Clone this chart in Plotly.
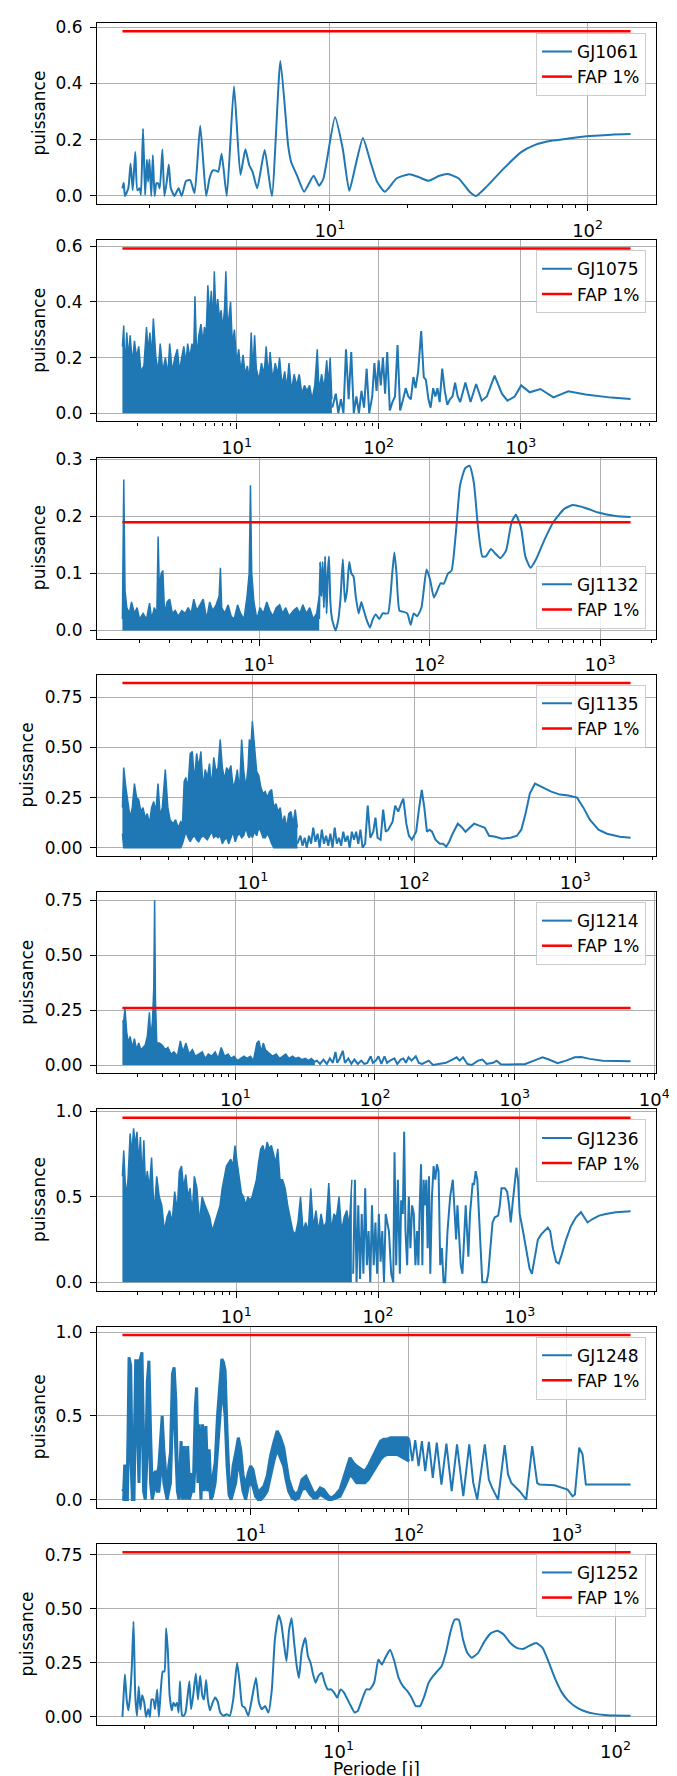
import math

import plotly.graph_objects as go

# Lomb-Scargle periodograms: period [days] and power.
# "dense" arrays describe the parts where the curve oscillates so fast that it
# renders as a solid band (upper edge, and lower edge where it is not zero).

# GJ1061
gj1061_period = [
    1.567, 1.585, 1.603, 1.652, 1.686, 1.718, 1.758, 1.791, 1.828, 1.849,
    1.884, 1.919, 1.950, 1.972, 1.995, 2.028, 2.056, 2.089, 2.123, 2.154,
    2.188, 2.239, 2.280, 2.328, 2.371, 2.415, 2.495, 2.588, 2.661, 2.767,
    2.871, 2.985, 3.140, 3.311, 3.412, 3.508, 3.614, 3.690, 3.802, 3.981,
    4.246, 4.498, 4.699, 4.864, 5.012, 5.224, 5.585, 5.957, 6.427, 6.887,
    7.079, 7.447, 7.943, 8.650, 9.087, 9.441, 10.47, 11.22, 11.89, 12.59,
    13.43, 14.39, 15.25, 16.35, 18.13, 20.33, 21.98, 24.15, 26.61, 28.71,
    31.62, 34.83, 36.90, 40.55, 47.32, 55.21, 61.94, 72.11, 84.14, 101.9,
    123.5, 146.8,
]
gj1061_power = [
    0.027, 0.047, 0.0, 0.027, 0.115, 0.02, 0.156, 0.02, 0.027, 0.004,
    0.239, 0.003, 0.13, 0.05, 0.13, 0.0, 0.145, 0.0, 0.045, 0.045,
    0.027, 0.165, 0.0, 0.05, 0.112, 0.027, 0.0, 0.027, 0.0, 0.053,
    0.056, 0.01, 0.25, 0.0, 0.062, 0.09, 0.09, 0.086, 0.15, 0.0,
    0.39, 0.074, 0.166, 0.11, 0.086, 0.027, 0.163, 0.0, 0.48, 0.18,
    0.12, 0.074, 0.015, 0.072, 0.036, 0.062, 0.28, 0.168, 0.018, 0.11,
    0.206, 0.12, 0.05, 0.015, 0.062, 0.077, 0.068, 0.054, 0.072, 0.078,
    0.062, 0.015, 0.0, 0.033, 0.098, 0.156, 0.18, 0.196, 0.204, 0.213,
    0.218, 0.22,
]
gj1061_fap = 0.586

# GJ1075
gj1075_dense_period = [
    1.571, 1.605, 1.639, 1.685, 1.733, 1.781, 1.845, 1.910, 1.977, 2.047,
    2.120, 2.226, 2.321, 2.386, 2.453, 2.523, 2.594, 2.704, 2.801, 2.899,
    3.023, 3.151, 3.286, 3.379, 3.523, 3.673, 3.830, 3.964, 4.105, 4.250,
    4.400, 4.524, 4.684, 4.850, 4.988, 5.092, 5.236, 5.422, 5.614, 5.813,
    5.935, 6.103, 6.275, 6.453, 6.635, 6.822, 6.966, 7.161, 7.363, 7.571,
    7.784, 8.004, 8.230, 8.404, 8.641, 8.884, 9.072, 9.328, 9.658, 10.0,
    10.35, 10.72, 11.10, 11.49, 11.90, 12.32, 12.67, 13.02, 13.39, 13.77,
    14.36, 14.97, 15.61, 16.16, 16.73, 17.21, 17.94, 18.70, 19.50, 20.05,
    20.90, 21.80, 22.57, 23.37, 24.36, 25.40, 26.48, 27.61, 28.79, 30.01,
    31.30, 32.63, 34.02, 35.47, 36.98, 38.03, 39.64, 41.33, 43.09, 44.31,
    45.56, 46.84,
]
gj1075_dense_top = [
    0.24, 0.315, 0.15, 0.29, 0.2, 0.28, 0.18, 0.26, 0.2, 0.24,
    0.15, 0.17, 0.31, 0.22, 0.29, 0.2, 0.34, 0.2, 0.15, 0.25,
    0.15, 0.2, 0.14, 0.25, 0.15, 0.2, 0.23, 0.15, 0.2, 0.24,
    0.18, 0.25, 0.2, 0.25, 0.22, 0.42, 0.2, 0.28, 0.32, 0.25,
    0.31, 0.28, 0.46, 0.35, 0.44, 0.32, 0.51, 0.35, 0.41, 0.34,
    0.37, 0.3, 0.38, 0.51, 0.3, 0.36, 0.4, 0.25, 0.3, 0.18,
    0.23, 0.15, 0.21, 0.14, 0.17, 0.12, 0.29, 0.15, 0.28, 0.16,
    0.12, 0.18, 0.14, 0.24, 0.13, 0.22, 0.12, 0.18, 0.14, 0.2,
    0.1, 0.15, 0.09, 0.18, 0.08, 0.14, 0.1, 0.14, 0.07, 0.1,
    0.08, 0.1, 0.05, 0.1, 0.23, 0.08, 0.14, 0.09, 0.19, 0.1,
    0.2, 0.05,
]
gj1075_period = [
    47.2, 49.9, 52.0, 54.2, 56.5, 58.9, 61.5, 64.1, 66.8, 69.7,
    72.6, 75.7, 78.9, 82.3, 85.8, 90.1, 93.3, 96.6, 100.0, 103.5,
    107.2, 111.0, 114.9, 119.9, 125.0, 130.3, 135.8, 141.6, 148.7, 155.0,
    161.6, 168.5, 175.6, 181.9, 189.7, 199.2, 207.7, 215.0, 224.1, 232.1,
    241.9, 250.6, 259.5, 268.7, 280.1, 291.9, 304.3, 317.4, 331.0, 345.1,
    359.8, 375.1, 407.9, 443.4, 485.3, 531.2, 577.4, 654.6, 736.6, 806.1,
    907.4, 1007, 1157, 1376, 1698, 2163, 2858, 4337, 5934,
]
gj1075_power = [
    0.02, 0.07, 0.0, 0.05, 0.0, 0.23, 0.05, 0.22, 0.0, 0.06,
    0.0, 0.08, 0.02, 0.16, 0.0, 0.06, 0.18, 0.08, 0.19, 0.1,
    0.2, 0.07, 0.22, 0.01, 0.04, 0.06, 0.245, 0.01, 0.05, 0.09,
    0.06, 0.05, 0.13, 0.09, 0.15, 0.295, 0.13, 0.12, 0.05, 0.02,
    0.09, 0.06, 0.09, 0.04, 0.16, 0.08, 0.03, 0.05, 0.06, 0.11,
    0.06, 0.04, 0.11, 0.04, 0.105, 0.045, 0.06, 0.135, 0.07, 0.045,
    0.06, 0.1, 0.075, 0.087, 0.057, 0.079, 0.067, 0.056, 0.051,
]
gj1075_fap = 0.592

# GJ1132
gj1132_dense_period = [
    1.580, 1.609, 1.637, 1.676, 1.735, 1.786, 1.860, 1.926, 1.994, 2.089,
    2.188, 2.279, 2.346, 2.429, 2.515, 2.559, 2.604, 2.665, 2.728, 2.792,
    2.890, 2.992, 3.099, 3.226, 3.360, 3.521, 3.688, 3.840, 3.999, 4.142,
    4.313, 4.492, 4.705, 4.929, 5.133, 5.346, 5.600, 5.832, 5.934, 6.039,
    6.289, 6.587, 6.861, 7.144, 7.482, 7.794, 8.163, 8.502, 8.751, 8.905,
    9.06, 9.33, 9.71, 10.12, 10.60, 11.10, 11.56, 12.04, 12.61, 13.21,
    13.76, 14.33, 15.01, 15.91, 16.66, 17.35, 18.07, 18.93, 19.83, 20.77,
    21.76, 22.53,
]
gj1132_dense_top = [
    0.02, 0.265, 0.07, 0.04, 0.03, 0.05, 0.03, 0.04, 0.02, 0.03,
    0.02, 0.048, 0.02, 0.04, 0.03, 0.165, 0.07, 0.1, 0.105, 0.03,
    0.05, 0.055, 0.03, 0.035, 0.025, 0.035, 0.03, 0.04, 0.03, 0.055,
    0.035, 0.045, 0.055, 0.02, 0.05, 0.035, 0.045, 0.06, 0.11, 0.04,
    0.03, 0.045, 0.025, 0.02, 0.045, 0.03, 0.02, 0.06, 0.1, 0.255,
    0.1, 0.05, 0.02, 0.04, 0.03, 0.05, 0.035, 0.025, 0.04, 0.045,
    0.03, 0.04, 0.025, 0.035, 0.04, 0.03, 0.045, 0.03, 0.04, 0.02,
    0.03, 0.06,
]
gj1132_period = [
    22.53, 22.8, 23.2, 23.6, 24.0, 24.4, 24.9, 25.3, 25.7, 26.2,
    26.8, 28.1, 29.2, 30.1, 31.0, 31.9, 32.8, 33.8, 34.8, 35.8,
    36.9, 38.4, 39.8, 40.7, 42.6, 44.7, 46.5, 48.4, 50.7, 53.1,
    57.0, 60.4, 62.2, 64.0, 66.6, 69.8, 74.0, 77.5, 80.7, 84.5,
    89.6, 96.0, 100.6, 106.0, 111.0, 116.3, 121.1, 128.3, 134.5, 142.5,
    151.0, 161.9, 171.5, 181.7, 192.6, 204.1, 213.8, 229.2, 242.9, 260.4,
    280.8, 302.8, 320.8, 344.0, 364.5, 390.7, 421.4, 473.3, 531.4, 614.3,
    690.2, 821.0, 977.0, 1232, 1510,
]
gj1132_power = [
    0.02, 0.12, 0.06, 0.12, 0.04, 0.13, 0.03, 0.1, 0.13, 0.05,
    0.02, 0.0, 0.02, 0.06, 0.125, 0.05, 0.07, 0.12, 0.1, 0.095,
    0.06, 0.03, 0.05, 0.04, 0.02, 0.005, 0.02, 0.028, 0.02, 0.03,
    0.03, 0.1, 0.137, 0.1, 0.035, 0.033, 0.03, 0.01, 0.03, 0.025,
    0.04, 0.107, 0.09, 0.058, 0.07, 0.083, 0.082, 0.1, 0.105, 0.17,
    0.255, 0.285, 0.289, 0.26, 0.18, 0.13, 0.13, 0.143, 0.135, 0.127,
    0.14, 0.19, 0.203, 0.18, 0.13, 0.11, 0.125, 0.16, 0.19, 0.213,
    0.22, 0.215, 0.207, 0.201, 0.199,
]
gj1132_fap = 0.19

# GJ1135
gj1135_dense_period = [
    1.554, 1.583, 1.633, 1.683, 1.735, 1.789, 1.845, 1.902, 1.961, 2.022,
    2.085, 2.150, 2.217, 2.286, 2.357, 2.430, 2.506, 2.584, 2.664, 2.747,
    2.867, 2.974, 3.067, 3.201, 3.321, 3.445, 3.575, 3.663, 3.754, 3.846,
    3.966, 4.090, 4.217, 4.348, 4.484, 4.623, 4.767, 4.915, 5.068, 5.226,
    5.388, 5.556, 5.728, 5.907, 6.090, 6.280, 6.475, 6.676, 6.883, 7.097,
    7.318, 7.545, 7.780, 8.022, 8.271, 8.529, 8.794, 9.067, 9.348, 9.521,
    9.758, 9.938, 10.25, 10.57, 10.89, 11.23, 11.58, 11.94, 12.31, 12.70,
    13.09, 13.50, 13.92, 14.35, 14.80, 15.26, 15.73, 16.22, 16.72, 17.25,
    17.78, 18.33, 18.91,
]
gj1135_dense_top = [
    0.2, 0.40, 0.3, 0.22, 0.15, 0.2, 0.32, 0.25, 0.24, 0.18,
    0.2, 0.15, 0.17, 0.12, 0.2, 0.23, 0.18, 0.32, 0.16, 0.2,
    0.39, 0.2, 0.14, 0.12, 0.14, 0.1, 0.13, 0.12, 0.33, 0.35,
    0.3, 0.47, 0.48, 0.33, 0.47, 0.4, 0.48, 0.3, 0.39, 0.35,
    0.42, 0.3, 0.45, 0.38, 0.4, 0.54, 0.4, 0.34, 0.4, 0.38,
    0.41, 0.3, 0.33, 0.39, 0.28, 0.54, 0.38, 0.3, 0.4, 0.54,
    0.52, 0.63, 0.5, 0.38, 0.36, 0.3, 0.27, 0.28, 0.25, 0.28,
    0.29, 0.2, 0.22, 0.18, 0.2, 0.12, 0.16, 0.1, 0.17, 0.18,
    0.12, 0.19, 0.1,
]
gj1135_dense_low = [
    0.07, 0.0, 0.0, 0.0, 0.0, 0.0, 0.0, 0.0, 0.0, 0.0,
    0.0, 0.0, 0.0, 0.0, 0.0, 0.0, 0.0, 0.0, 0.0, 0.0,
    0.0, 0.0, 0.0, 0.0, 0.0, 0.0, 0.0, 0.02, 0.05, 0.08,
    0.05, 0.03, 0.05, 0.06, 0.04, 0.03, 0.05, 0.06, 0.05, 0.04,
    0.06, 0.08, 0.05, 0.06, 0.05, 0.06, 0.02, 0.04, 0.05, 0.02,
    0.05, 0.08, 0.03, 0.06, 0.07, 0.05, 0.06, 0.1, 0.06, 0.05,
    0.07, 0.05, 0.08, 0.06, 0.1, 0.08, 0.05, 0.05, 0.07, 0.05,
    0.02, 0.0, 0.0, 0.0, 0.0, 0.0, 0.0, 0.0, 0.0, 0.0,
    0.0, 0.0, 0.0,
]
gj1135_period = [
    18.91, 19.73, 20.35, 20.98, 21.63, 22.31, 23.00, 23.71, 24.45, 25.21,
    25.99, 26.80, 27.63, 28.49, 29.38, 30.29, 31.23, 32.21, 33.20, 34.24,
    35.31, 36.40, 37.54, 38.70, 39.91, 41.15, 42.43, 43.75, 45.11, 46.51,
    47.96, 49.75, 51.62, 53.55, 55.90, 57.64, 59.42, 62.03, 64.35, 66.76,
    69.26, 73.62, 76.38, 79.73, 83.22, 85.81, 89.57, 92.91, 96.99, 103.1,
    107.6, 111.7, 115.8, 120.2, 124.7, 129.3, 135.8, 144.4, 151.6, 158.3,
    165.2, 173.5, 186.8, 196.2, 208.5, 221.6, 235.6, 253.7, 274.8, 292.1,
    320.1, 351.0, 396.7, 434.9, 462.4, 491.5, 522.5, 562.3, 628.1, 709.8,
    802.3, 906.6, 1025, 1123, 1231, 1392, 1573, 1891, 2203,
]
gj1135_power = [
    0.02, 0.06, 0.01, 0.05, 0.0, 0.06, 0.02, 0.1, 0.03, 0.07,
    0.0, 0.09, 0.02, 0.06, 0.01, 0.07, 0.0, 0.1, 0.02, 0.05,
    0.01, 0.08, 0.03, 0.06, 0.0, 0.08, 0.04, 0.08, 0.02, 0.09,
    0.0, 0.02, 0.21, 0.05, 0.08, 0.15, 0.05, 0.04, 0.19, 0.08,
    0.09, 0.13, 0.21, 0.18, 0.22, 0.245, 0.12, 0.06, 0.04, 0.08,
    0.2, 0.288, 0.2, 0.08, 0.09, 0.08, 0.04, 0.02, 0.02, 0.005,
    0.03, 0.07, 0.12, 0.105, 0.08, 0.1, 0.12, 0.11, 0.1, 0.06,
    0.055, 0.045, 0.05, 0.06, 0.09, 0.17, 0.27, 0.32, 0.3, 0.28,
    0.265, 0.26, 0.25, 0.2, 0.14, 0.09, 0.07, 0.055, 0.05,
]
gj1135_fap = 0.821

# GJ1214
gj1214_dense_period = [
    1.552, 1.585, 1.619, 1.665, 1.713, 1.763, 1.826, 1.892, 1.960, 2.031,
    2.104, 2.180, 2.258, 2.340, 2.424, 2.476, 2.548, 2.603, 2.640, 2.677,
    2.735, 2.854, 2.999, 3.151, 3.288, 3.455, 3.631, 3.842, 4.037, 4.212,
    4.428, 4.653, 4.924, 5.174, 5.477, 5.797, 6.091, 6.400, 6.773, 7.168,
    7.532, 7.915, 8.378, 8.866, 9.316, 9.790, 10.36, 10.96, 11.52, 12.11,
    12.81, 13.46, 14.25, 14.76, 15.30, 15.85, 16.42, 17.01, 17.75, 18.52,
    19.60, 20.75, 21.81, 22.91, 24.24, 25.66, 26.97, 28.34, 29.99, 31.73,
    33.35, 35.05, 37.09,
]
gj1214_dense_top = [
    0.2, 0.2, 0.26, 0.15, 0.1, 0.13, 0.08, 0.12, 0.07, 0.1,
    0.07, 0.08, 0.09, 0.13, 0.24, 0.12, 0.2, 0.35, 0.75, 0.3,
    0.1, 0.1, 0.09, 0.07, 0.08, 0.05, 0.06, 0.04, 0.11, 0.06,
    0.1, 0.05, 0.07, 0.04, 0.05, 0.06, 0.03, 0.05, 0.04, 0.06,
    0.03, 0.08, 0.04, 0.05, 0.03, 0.04, 0.02, 0.03, 0.04, 0.03,
    0.04, 0.02, 0.1, 0.11, 0.06, 0.1, 0.07, 0.06, 0.05, 0.04,
    0.05, 0.03, 0.04, 0.05, 0.03, 0.04, 0.03, 0.035, 0.025, 0.03,
    0.02, 0.03, 0.015,
]
gj1214_period = [
    37.09, 38.42, 40.38, 42.73, 45.22, 47.53, 49.94, 52.13, 53.62, 55.95,
    58.79, 60.91, 64.46, 67.73, 71.18, 75.33, 79.71, 83.77, 88.08, 93.16,
    96.52, 101.4, 105.8, 111.2, 116.9, 122.0, 128.2, 137.6, 144.5, 153.0,
    159.6, 166.5, 173.8, 182.6, 196.0, 206.0, 218.0, 242.4, 260.3, 289.4,
    321.9, 358.1, 384.3, 403.9, 427.4, 458.7, 492.4, 547.5, 587.7, 631.0,
    701.9, 742.8, 797.1, 899.2, 1074, 1194, 1376, 1585, 1763, 2031,
    2340, 2697, 3000, 3455, 4274, 5674, 6773,
]
gj1214_power = [
    0.015, 0.02, 0.005, 0.025, 0.005, 0.03, 0.01, 0.06, 0.01, 0.03,
    0.065, 0.01, 0.03, 0.005, 0.025, 0.005, 0.02, 0.005, 0.01, 0.04,
    0.01, 0.02, 0.04, 0.005, 0.04, 0.01, 0.02, 0.03, 0.005, 0.025,
    0.03, 0.01, 0.035, 0.02, 0.04, 0.01, 0.005, 0.02, 0.0, 0.005,
    0.01, 0.025, 0.035, 0.02, 0.035, 0.005, 0.0, 0.02, 0.025, 0.005,
    0.01, 0.02, 0.003, 0.002, 0.003, 0.005, 0.02, 0.035, 0.025, 0.008,
    0.02, 0.035, 0.037, 0.028, 0.02, 0.018, 0.017,
]
gj1214_fap = 0.26

# GJ1236
gj1236_dense_period = [
    1.571, 1.605, 1.662, 1.720, 1.781, 1.832, 1.884, 1.936, 1.991, 2.047,
    2.105, 2.164, 2.226, 2.289, 2.353, 2.436, 2.523, 2.630, 2.743, 2.859,
    2.980, 3.107, 3.240, 3.379, 3.523, 3.673, 3.830, 3.964, 4.105, 4.250,
    4.400, 4.556, 4.717, 4.884, 5.057, 5.273, 5.498, 5.732, 6.019, 6.231,
    6.497, 6.774, 7.063, 7.363, 7.677, 7.949, 8.230, 8.522, 8.822, 9.135,
    9.458, 9.792, 10.14, 10.50, 10.87, 11.25, 11.65, 12.06, 12.49, 12.93,
    13.39, 13.87, 14.36, 14.87, 15.39, 15.94, 16.50, 17.09, 17.69, 18.32,
    18.97, 19.63, 20.33, 21.20, 22.10, 23.05, 24.03, 25.05, 26.12, 27.23,
    28.39, 29.60, 30.86, 32.18, 33.55, 34.98, 36.47, 38.03, 39.64, 41.33,
    43.09, 44.94, 46.84, 48.84, 50.92, 53.09, 55.35, 57.71, 60.17, 62.74,
    65.41,
]
gj1236_dense_top = [
    0.62, 0.77, 0.5, 0.6, 0.87, 0.75, 0.9, 0.8, 0.88, 0.7,
    0.85, 0.6, 0.83, 0.55, 0.65, 0.55, 0.73, 0.4, 0.62, 0.5,
    0.45, 0.3, 0.38, 0.42, 0.35, 0.53, 0.42, 0.65, 0.68, 0.55,
    0.63, 0.5, 0.55, 0.4, 0.62, 0.55, 0.35, 0.5, 0.45, 0.42,
    0.38, 0.3, 0.35, 0.4, 0.45, 0.55, 0.62, 0.68, 0.7, 0.72,
    0.68, 0.8, 0.7, 0.6, 0.52, 0.5, 0.45, 0.5, 0.48, 0.5,
    0.55, 0.6, 0.7, 0.78, 0.8, 0.75, 0.82, 0.78, 0.8, 0.75,
    0.7, 0.78, 0.6, 0.6, 0.55, 0.45, 0.38, 0.3, 0.28, 0.35,
    0.5, 0.3, 0.35, 0.3, 0.55, 0.32, 0.42, 0.3, 0.4, 0.32,
    0.35, 0.58, 0.3, 0.4, 0.38, 0.5, 0.3, 0.38, 0.42, 0.33,
    0.6,
]
gj1236_period = [
    66.8, 68.7, 70.6, 72.6, 74.7, 76.8, 78.9, 81.2, 83.5, 85.8,
    88.2, 90.7, 93.3, 95.9, 98.6, 101.4, 104.3, 107.2, 110.2, 113.3,
    116.2, 119.4, 124.0, 128.1, 130.8, 134.4, 138.1, 142.6, 145.7, 149.7,
    153.0, 156.3, 160.6, 165.0, 169.4, 174.1, 178.8, 183.7, 188.7, 192.8,
    197.0, 201.3, 205.6, 210.1, 213.5, 219.3, 224.1, 229.0, 233.9, 240.3,
    246.9, 253.6, 260.5, 267.6, 274.9, 282.4, 290.1, 298.0, 309.5, 323.0,
    337.3, 346.5, 355.9, 363.6, 373.6, 383.8, 394.3, 405.1, 416.0, 425.0,
    434.3, 446.1, 458.3, 465.7, 475.9, 489.0, 502.2, 515.9, 530.0, 544.5,
    562.3, 583.9, 599.8, 622.8, 643.2, 668.0, 705.0, 724.3, 744.1, 785.3,
    815.4, 841.8, 864.8, 888.4, 922.6, 947.5, 973.4, 1000, 1055, 1114,
    1175, 1220, 1274, 1344, 1419, 1497, 1580, 1641, 1713, 1807,
    1887, 1960, 2124, 2302, 2496, 2706, 2856, 3013, 3266, 3637,
    4051, 4760, 6063,
]
gj1236_power = [
    0.05, 0.6, 0.0, 0.45, 0.02, 0.4, 0.05, 0.55, 0.1, 0.3,
    0.0, 0.45, 0.1, 0.35, 0.05, 0.4, 0.12, 0.3, 0.0, 0.4,
    0.35, 0.3, 0.05, 0.0, 0.76, 0.1, 0.6, 0.05, 0.48, 0.4,
    0.88, 0.3, 0.1, 0.5, 0.2, 0.45, 0.4, 0.1, 0.3, 0.1,
    0.45, 0.69, 0.1, 0.6, 0.45, 0.6, 0.2, 0.62, 0.05, 0.5,
    0.68, 0.6, 0.69, 0.65, 0.1, 0.2, 0.0, 0.0, 0.3, 0.5,
    0.6, 0.45, 0.25, 0.45, 0.3, 0.1, 0.05, 0.3, 0.45, 0.3,
    0.15, 0.4, 0.55, 0.58, 0.57, 0.65, 0.6, 0.4, 0.15, 0.0,
    0.0, 0.0, 0.05, 0.2, 0.35, 0.38, 0.39, 0.45, 0.55, 0.55,
    0.53, 0.45, 0.35, 0.45, 0.6, 0.67, 0.6, 0.4, 0.3, 0.2,
    0.08, 0.05, 0.15, 0.25, 0.28, 0.3, 0.32, 0.3, 0.2, 0.12,
    0.11, 0.15, 0.25, 0.33, 0.38, 0.41, 0.38, 0.35, 0.37, 0.39,
    0.4, 0.41, 0.415,
]
gj1236_fap = 0.963

# GJ1248
gj1248_dense_period = [
    1.544, 1.574, 1.597, 1.620, 1.660, 1.701, 1.742, 1.785, 1.828, 1.873,
    1.919, 1.966, 2.004, 2.053, 2.103, 2.154, 2.218, 2.272, 2.327, 2.385,
    2.441, 2.501, 2.563, 2.626, 2.690, 2.756, 2.823, 2.892, 2.963, 3.035,
    3.110, 3.201, 3.280, 3.360, 3.441, 3.526, 3.629, 3.718, 3.808, 3.902,
    3.997, 4.095, 4.235, 4.359, 4.465, 4.553, 4.642, 4.733, 4.848, 4.966,
    5.088, 5.212, 5.339, 5.470, 5.603, 5.740, 5.966, 6.171, 6.383, 6.571,
    6.731, 6.896, 7.098, 7.306, 7.520, 7.743, 8.048, 8.365, 8.653, 8.952,
    9.302, 9.667, 10.0, 10.34, 10.75, 11.17, 11.61, 12.13, 12.73, 13.36,
    14.02, 14.72, 15.44, 16.20, 16.76, 17.42, 18.29, 19.19, 20.14, 21.14,
    22.39, 23.85, 25.02, 26.26, 27.56, 28.92, 31.10, 32.63, 34.57, 36.81,
    39.58, 42.56, 44.66, 46.87, 50.39, 52.88, 55.49, 59.67, 62.61,
    66.4, 69.6, 73.1, 76.7, 80.5, 84.4, 88.6, 93.0, 97.6, 101.0,
]
gj1248_dense_low = [
    0.0, 0.0, 0.05, 0.0, 0.0, 0.55, 0.3, 0.0, 0.0, 0.6,
    0.45, 0.1, 0.5, 0.6, 0.05, 0.0, 0.3, 0.6, 0.1, 0.0,
    0.05, 0.1, 0.05, 0.05, 0.15, 0.3, 0.1, 0.05, 0.0, 0.05,
    0.1, 0.5, 0.6, 0.3, 0.05, 0.0, 0.1, 0.0, 0.1, 0.0,
    0.1, 0.0, 0.05, 0.05, 0.3, 0.4, 0.1, 0.25, 0.0, 0.25,
    0.05, 0.25, 0.05, 0.1, 0.0, 0.02, 0.1, 0.3, 0.5, 0.65,
    0.6, 0.5, 0.2, 0.03, 0.0, 0.05, 0.1, 0.25, 0.15, 0.05,
    0.0, 0.08, 0.1, 0.08, 0.02, 0.0, 0.0, 0.02, 0.05, 0.15,
    0.23, 0.3, 0.25, 0.2, 0.12, 0.05, 0.01, 0.0, 0.01, 0.06,
    0.07, 0.03, 0.01, 0.01, 0.03, 0.02, 0.0, 0.0, 0.01, 0.02,
    0.08, 0.15, 0.13, 0.1, 0.1, 0.1, 0.12, 0.17, 0.2,
    0.24, 0.26, 0.27, 0.27, 0.27, 0.27, 0.26, 0.25, 0.24, 0.23,
]
gj1248_dense_top = [
    0.05, 0.06, 0.21, 0.05, 0.1, 0.85, 0.8, 0.1, 0.2, 0.83,
    0.83, 0.5, 0.84, 0.88, 0.35, 0.05, 0.7, 0.83, 0.4, 0.05,
    0.15, 0.17, 0.15, 0.2, 0.35, 0.5, 0.3, 0.15, 0.05, 0.2,
    0.28, 0.75, 0.79, 0.6, 0.15, 0.05, 0.35, 0.1, 0.32, 0.05,
    0.32, 0.1, 0.15, 0.15, 0.55, 0.67, 0.3, 0.45, 0.12, 0.45,
    0.2, 0.44, 0.15, 0.3, 0.05, 0.12, 0.22, 0.5, 0.7, 0.84,
    0.82, 0.77, 0.4, 0.12, 0.06, 0.2, 0.28, 0.37, 0.3, 0.15,
    0.08, 0.16, 0.2, 0.18, 0.1, 0.04, 0.06, 0.08, 0.14, 0.26,
    0.34, 0.41, 0.37, 0.31, 0.22, 0.12, 0.06, 0.03, 0.05, 0.12,
    0.14, 0.08, 0.04, 0.04, 0.07, 0.06, 0.02, 0.01, 0.03, 0.06,
    0.16, 0.25, 0.22, 0.2, 0.18, 0.17, 0.2, 0.26, 0.3,
    0.35, 0.36, 0.36, 0.37, 0.37, 0.37, 0.37, 0.37, 0.37, 0.36,
]
gj1248_period = [
    101.0, 105.5, 110.1, 115.6, 121.3, 127.3, 134.3, 142.2, 150.7, 161.3,
    173.4, 187.3, 202.4, 221.8, 241.9, 256.4, 271.6, 303.5, 321.7, 337.6,
    368.1, 405.5, 425.6, 446.6, 503.9, 554.9, 605.3, 626.0, 650.7, 673.1,
    836.5, 1015, 1091, 1128, 1201, 1261, 1323, 1644, 2539,
]
gj1248_power = [
    0.36, 0.23, 0.355, 0.2, 0.35, 0.17, 0.345, 0.13, 0.34, 0.09,
    0.335, 0.05, 0.33, 0.02, 0.33, 0.1, 0.0, 0.33, 0.12, 0.07,
    0.0, 0.325, 0.15, 0.1, 0.05, 0.0, 0.32, 0.22, 0.1, 0.09,
    0.085, 0.06, 0.02, 0.03, 0.31, 0.27, 0.09, 0.09, 0.09,
]
gj1248_fap = 0.984

# GJ1252
gj1252_period = [
    1.661, 1.678, 1.696, 1.721, 1.746, 1.771, 1.796, 1.822, 1.848, 1.875,
    1.902, 1.929, 1.957, 1.992, 2.021, 2.057, 2.087, 2.116, 2.147, 2.178,
    2.217, 2.249, 2.281, 2.322, 2.355, 2.389, 2.424, 2.459, 2.503, 2.539,
    2.576, 2.613, 2.650, 2.679, 2.727, 2.766, 2.806, 2.846, 2.897, 2.939,
    2.992, 3.057, 3.112, 3.168, 3.225, 3.271, 3.330, 3.378, 3.439, 3.513,
    3.589, 3.667, 3.746, 3.841, 3.953, 4.053, 4.171, 4.307, 4.400, 4.496,
    4.592, 4.726, 4.897, 5.039, 5.167, 5.297, 5.431, 5.588, 5.750, 5.896,
    6.088, 6.220, 6.355, 6.492, 6.633, 6.776, 6.923, 7.073, 7.200, 7.382,
    7.596, 7.761, 7.929, 8.100, 8.276, 8.455, 8.700, 8.921, 9.147, 9.410,
    9.650, 9.893, 10.18, 10.47, 10.78, 11.09, 11.45, 11.74, 12.17, 12.61,
    12.98, 13.45, 13.94, 14.34, 14.76, 15.35, 15.91, 16.49, 17.09, 17.71,
    18.35, 19.01, 19.70, 20.42, 21.16, 21.93, 22.73, 23.56, 24.41, 25.30,
    26.22, 27.17, 28.16, 29.18, 30.24, 31.91, 33.66, 35.52, 37.47, 39.53,
    41.71, 44.00, 46.42, 48.97, 51.67, 54.51, 57.51, 60.67, 64.01, 67.53,
    72.53, 77.89, 83.65, 91.47, 100.0, 113.3,
]
gj1252_power = [
    0.0, 0.1, 0.196, 0.08, 0.03, 0.1, 0.23, 0.44, 0.1, 0.005,
    0.14, 0.035, 0.1, 0.065, 0.0, 0.035, 0.0, 0.08, 0.08, 0.035,
    0.127, 0.0, 0.11, 0.21, 0.21, 0.41, 0.3, 0.1, 0.03, 0.065,
    0.05, 0.065, 0.02, 0.165, 0.008, 0.005, 0.02, 0.08, 0.165, 0.035,
    0.1, 0.2, 0.08, 0.19, 0.1, 0.08, 0.17, 0.08, 0.03, 0.065,
    0.09, 0.07, 0.02, 0.005, 0.012, 0.005, 0.08, 0.25, 0.16, 0.05,
    0.043, 0.005, 0.1, 0.18, 0.065, 0.035, 0.05, 0.02, 0.127, 0.357,
    0.47, 0.43, 0.34, 0.257, 0.4, 0.456, 0.34, 0.234, 0.18, 0.31,
    0.364, 0.28, 0.25, 0.196, 0.158, 0.188, 0.204, 0.158, 0.127, 0.127,
    0.112, 0.089, 0.127, 0.112, 0.081, 0.05, 0.02, 0.028, 0.081, 0.127,
    0.127, 0.158, 0.265, 0.242, 0.273, 0.31, 0.257, 0.18, 0.142, 0.12,
    0.089, 0.05, 0.05, 0.096, 0.158, 0.188, 0.211, 0.234, 0.296, 0.387,
    0.449, 0.449, 0.357, 0.296, 0.273, 0.296, 0.349, 0.387, 0.398, 0.38,
    0.341, 0.319, 0.314, 0.329, 0.341, 0.319, 0.25, 0.173, 0.112, 0.074,
    0.043, 0.025, 0.015, 0.009, 0.006, 0.005,
]
gj1252_fap = 0.761

ticks_02 = [0.0, 0.2, 0.4, 0.6]
ticks_01 = [0.0, 0.1, 0.2, 0.3]
ticks_025 = [0.0, 0.25, 0.5, 0.75]
ticks_05 = [0.0, 0.5, 1.0]
labels_02 = ["0.0", "0.2", "0.4", "0.6"]
labels_01 = ["0.0", "0.1", "0.2", "0.3"]
labels_025 = ["0.00", "0.25", "0.50", "0.75"]
labels_05 = ["0.0", "0.5", "1.0"]

panels = [
    dict(star="GJ1061", period=gj1061_period, power=gj1061_power, fap=gj1061_fap,
         yticks=ticks_02, ylabels=labels_02, smooth=True),
    dict(star="GJ1075", period=gj1075_period, power=gj1075_power, fap=gj1075_fap,
         dense_period=gj1075_dense_period, dense_top=gj1075_dense_top,
         yticks=ticks_02, ylabels=labels_02),
    dict(star="GJ1132", period=gj1132_period, power=gj1132_power, fap=gj1132_fap,
         dense_period=gj1132_dense_period, dense_top=gj1132_dense_top,
         yticks=ticks_01, ylabels=labels_01, legend_low=True, smooth=True),
    dict(star="GJ1135", period=gj1135_period, power=gj1135_power, fap=gj1135_fap,
         dense_period=gj1135_dense_period, dense_top=gj1135_dense_top,
         dense_low=gj1135_dense_low, yticks=ticks_025, ylabels=labels_025),
    dict(star="GJ1214", period=gj1214_period, power=gj1214_power, fap=gj1214_fap,
         dense_period=gj1214_dense_period, dense_top=gj1214_dense_top,
         yticks=ticks_025, ylabels=labels_025),
    dict(star="GJ1236", period=gj1236_period, power=gj1236_power, fap=gj1236_fap,
         dense_period=gj1236_dense_period, dense_top=gj1236_dense_top,
         yticks=ticks_05, ylabels=labels_05),
    dict(star="GJ1248", period=gj1248_period, power=gj1248_power, fap=gj1248_fap,
         dense_period=gj1248_dense_period, dense_top=gj1248_dense_top,
         dense_low=gj1248_dense_low, yticks=ticks_05, ylabels=labels_05,
         band_width=3),
    dict(star="GJ1252", period=gj1252_period, power=gj1252_power, fap=gj1252_fap,
         yticks=ticks_025, ylabels=labels_025, smooth=True),
]

FIG_W, FIG_H = 677, 1776
MARGIN = dict(l=89, r=29, t=7, b=58)
PANEL_H, PANEL_STEP = 182, 218.3
BLUE, RED = "#1f77b4", "#ff0000"
FONT = "DejaVu Sans"
FS = 17

plot_w = FIG_W - MARGIN["l"] - MARGIN["r"]
plot_h = FIG_H - MARGIN["t"] - MARGIN["b"]

fig = go.Figure()
layout = {}
annotations = []

for i, p in enumerate(panels, start=1):
    sfx = "" if i == 1 else str(i)
    xa, ya, leg = "x" + sfx, "y" + sfx, "legend" + sfx

    dense_p = p.get("dense_period", [])
    dense_t = p.get("dense_top", [])
    dense_l = p.get("dense_low", [])
    for a, b in [(p["period"], p["power"]), (dense_p, dense_t)]:
        if len(a) != len(b):
            raise ValueError(f"{p['star']}: {len(a)} periods vs {len(b)} powers")
    if dense_l and len(dense_l) != len(dense_p):
        raise ValueError(f"{p['star']}: low band length")

    all_p = dense_p + p["period"]
    all_y = dense_t + dense_l + p["power"] + [p["fap"]]

    # band where the oscillation is too fast to be resolved
    if dense_p:
        edge = dict(color=BLUE, width=p.get("band_width", 1.5))
        if dense_l:
            fig.add_trace(go.Scatter(
                x=dense_p, y=dense_l, mode="lines", line=edge,
                showlegend=False, hoverinfo="skip", xaxis=xa, yaxis=ya))
            fill = "tonexty"
        else:
            fill = "tozeroy"
        fig.add_trace(go.Scatter(
            x=dense_p, y=dense_t, mode="lines", fill=fill, fillcolor=BLUE,
            line=edge, showlegend=False, hoverinfo="skip",
            xaxis=xa, yaxis=ya))

    line = dict(color=BLUE, width=2)
    if p.get("smooth"):
        line.update(shape="spline", smoothing=0.5)
    fig.add_trace(go.Scatter(
        x=p["period"], y=p["power"], mode="lines", name=p["star"], line=line,
        legend=leg, xaxis=xa, yaxis=ya))
    fig.add_trace(go.Scatter(
        x=[min(all_p), max(all_p)], y=[p["fap"], p["fap"]], mode="lines",
        name="FAP 1%", line=dict(color=RED, width=2.5), legend=leg,
        xaxis=xa, yaxis=ya))

    # matplotlib-like 5 % margins
    lo, hi = math.log10(min(all_p)), math.log10(max(all_p))
    xpad = 0.05 * (hi - lo)
    ymin, ymax = min(all_y), max(all_y)
    ypad = 0.05 * (ymax - ymin)

    decades = [k for k in range(0, 6) if lo - xpad <= k <= hi + xpad]
    minor = [m * 10 ** k for k in range(0, 5) for m in range(2, 10)
             if lo - xpad <= math.log10(m * 10 ** k) <= hi + xpad]

    top_px = PANEL_STEP * (i - 1)
    y_hi = 1 - top_px / plot_h
    y_lo = 1 - (top_px + PANEL_H) / plot_h

    layout["xaxis" + sfx] = dict(
        type="log", range=[lo - xpad, hi + xpad], domain=[0, 1], anchor=ya,
        tickmode="array", tickvals=[10 ** k for k in decades],
        ticktext=[f"10<sup>{k}</sup>" for k in decades],
        ticks="outside", ticklen=6, tickwidth=1, tickcolor="black",
        ticklabelstandoff=4,
        minor=dict(tickmode="array", tickvals=minor, ticks="outside", ticklen=3,
                   tickwidth=1, tickcolor="black", showgrid=False),
        showline=True, mirror=True, linecolor="black", linewidth=1.2,
        showgrid=True, gridcolor="#b0b0b0", gridwidth=1, zeroline=False,
        tickfont=dict(family=FONT, size=18, color="black"),
    )
    layout["yaxis" + sfx] = dict(
        range=[ymin - ypad, ymax + ypad], domain=[y_lo, y_hi], anchor=xa,
        tickmode="array", tickvals=p["yticks"], ticktext=p["ylabels"],
        ticks="outside", ticklen=6, tickwidth=1, tickcolor="black",
        ticklabelstandoff=4,
        showline=True, mirror=True, linecolor="black", linewidth=1.2,
        showgrid=True, gridcolor="#b0b0b0", gridwidth=1, zeroline=False,
        tickfont=dict(family=FONT, size=FS, color="black"),
    )

    if p.get("legend_low"):
        ly, lanchor = y_lo + 10 / plot_h, "bottom"
    else:
        ly, lanchor = y_hi - 10 / plot_h, "top"
    layout[leg] = dict(
        x=1 - 10 / plot_w, xanchor="right", y=ly, yanchor=lanchor,
        traceorder="normal",
        bgcolor="rgba(255,255,255,0.8)", bordercolor="#cccccc", borderwidth=1,
        font=dict(family=FONT, size=FS, color="black"), tracegroupgap=0,
    )

    # the y label sits left of the tick labels, so wider labels push it out
    extra = max(len(t) for t in p["ylabels"]) - 3
    annotations.append(dict(
        text="puissance", xref="paper", yref="paper", x=0, y=(y_lo + y_hi) / 2,
        xshift=-58 - 12 * extra, xanchor="center", yanchor="middle", textangle=-90,
        showarrow=False, font=dict(family=FONT, size=FS, color="black")))

annotations.append(dict(
    text="Periode [j]", xref="paper", yref="paper", x=0.5, y=0, yshift=-43,
    xanchor="center", yanchor="middle", showarrow=False,
    font=dict(family=FONT, size=FS, color="black")))

fig.update_layout(
    width=FIG_W, height=FIG_H, margin=dict(**MARGIN, pad=0),
    paper_bgcolor="white", plot_bgcolor="white",
    font=dict(family=FONT, size=FS, color="black"),
    annotations=annotations, **layout,
)

fig.write_html("out.html")
